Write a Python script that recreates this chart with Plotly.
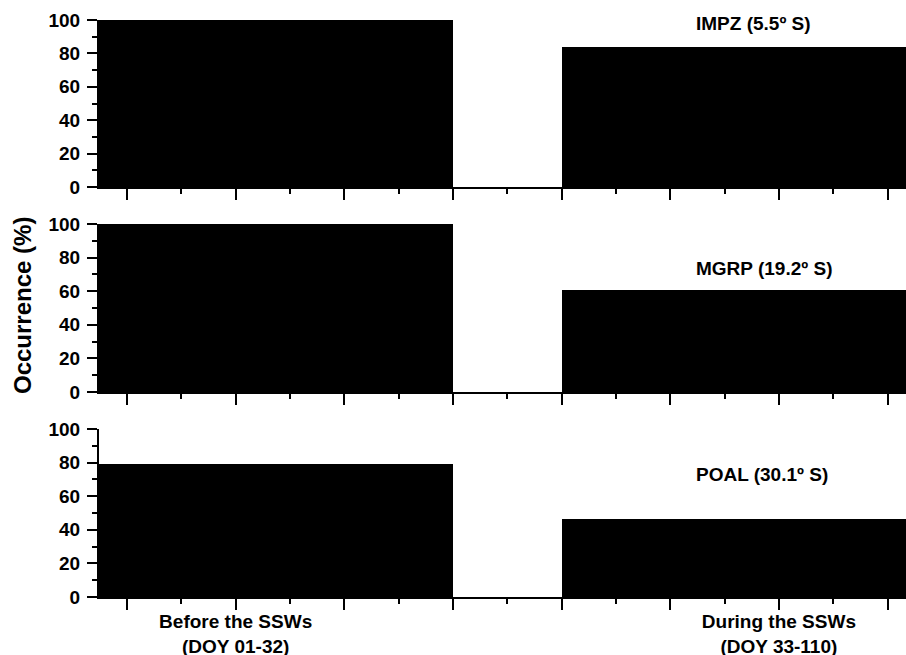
import plotly.graph_objects as go

# ---- data ----
periods = ["Before the SSWs<br>(DOY 01-32)", "During the SSWs<br>(DOY 33-110)"]
stations = ["IMPZ (5.5º S)", "MGRP (19.2º S)", "POAL (30.1º S)"]
impz = [100, 84]
mgrp = [100, 60.5]
poal = [79, 46.5]
y_ticks = [0, 20, 40, 60, 80, 100]

series = [impz, mgrp, poal]

# layout constants
bar_x = [1, 6]          # bar centres on the numeric x axis
bar_w = 4
x_range = [-0.258, 7.17]
x_major = list(range(0, 8))
label_pos = {1: periods[0], 6: periods[1]}

W, H = 906, 655
# panel pixel extents (top, bottom) on the page
panels = [(20, 187), (224, 392), (429, 597)]

FONT = "Liberation Sans, Arial, sans-serif"


def px_x(p):
    return p / W


def px_y(p):
    return (H - p) / H


fig = go.Figure()
layout = dict(
    width=W, height=H,
    margin=dict(l=0, r=0, t=0, b=0),
    paper_bgcolor="white", plot_bgcolor="white",
    showlegend=False,
    font=dict(family=FONT, color="black", size=19, weight="bold"),
    bargap=0,
)

annotations = []
for i, (vals, name) in enumerate(zip(series, stations)):
    n = i + 1
    xa = "x" if n == 1 else f"x{n}"
    ya = "y" if n == 1 else f"y{n}"
    fig.add_trace(go.Bar(
        x=bar_x, y=vals, width=[bar_w, bar_w],
        marker=dict(color="black", line=dict(width=0)),
        xaxis=xa, yaxis=ya,
    ))
    top, bot = panels[i]
    dom_y = [px_y(bot), px_y(top)]
    is_bottom = (n == 3)
    layout[f"xaxis{'' if n == 1 else n}"] = dict(
        domain=[px_x(99), 1.0],
        range=x_range,
        anchor=ya,
        tickmode="array",
        tickvals=x_major,
        ticktext=[label_pos.get(v, "") if is_bottom else "" for v in x_major],
        ticks="outside", ticklen=11, tickwidth=2, tickcolor="black",
        minor=dict(ticks="outside", ticklen=5, tickwidth=2, tickcolor="black",
                   tick0=0.5, dtick=1, showgrid=False),
        showline=True, linecolor="black", linewidth=2,
        showgrid=False, zeroline=False,
        tickfont=dict(family=FONT, size=19, color="black", weight="bold"),
        ticklabelstandoff=-5,
        automargin=False,
        fixedrange=True,
    )
    layout[f"yaxis{'' if n == 1 else n}"] = dict(
        domain=dom_y,
        range=[0, 100],
        anchor=xa,
        tickmode="array",
        tickvals=y_ticks,
        ticks="outside", ticklen=10, tickwidth=2, tickcolor="black",
        minor=dict(ticks="outside", ticklen=5, tickwidth=2, tickcolor="black",
                   tick0=10, dtick=20, showgrid=False),
        showline=True, linecolor="black", linewidth=2,
        showgrid=False, zeroline=False,
        tickfont=dict(family=FONT, size=19, color="black", weight="bold"),
        ticklabelstandoff=3,
        automargin=False,
        fixedrange=True,
    )
    label_y = [23.5, 268.5, 474.5][i]
    annotations.append(dict(
        text=name, xref="paper", yref="paper",
        x=px_x(694), y=px_y(label_y), xanchor="left", yanchor="middle",
        showarrow=False,
        font=dict(family=FONT, size=19, color="black", weight="bold"),
    ))

annotations.append(dict(
    text="Occurrence (%)", xref="paper", yref="paper",
    x=px_x(23), y=px_y(306), xanchor="center", yanchor="middle",
    textangle=-90, showarrow=False,
    font=dict(family=FONT, size=24, color="black", weight="bold"),
))
layout["annotations"] = annotations

fig.update_layout(**layout)
fig.write_html(
    "out.html",
    config={"displayModeBar": False, "staticPlot": True},
    post_script="document.documentElement.style.margin='0';"
                "document.body.style.margin='0';"
                "document.body.style.overflow='hidden';",
)
